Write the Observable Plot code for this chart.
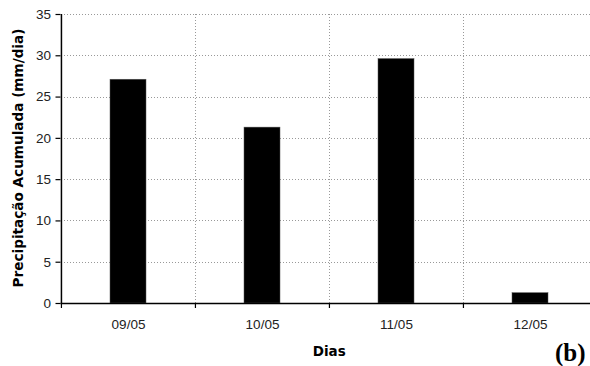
<!DOCTYPE html>
<html><head><meta charset="utf-8">
<script src="https://cdn.jsdelivr.net/npm/d3@7"></script>
<script src="https://cdn.jsdelivr.net/npm/@observablehq/plot@0.6"></script>
<style>
html,body{margin:0;padding:0;background:#fff;overflow:hidden;}
#chart{position:relative;width:590px;height:366px;overflow:hidden;}
#chart svg{overflow:hidden;}
</style></head><body><div id="chart"></div>
<script>
const dias = ["09/05", "10/05", "11/05", "12/05"];
const precipitacao = [27.1, 21.3, 29.6, 1.25];
const yTicks = [0, 5, 10, 15, 20, 25, 30, 35];
const yLabel = "Precipitação Acumulada (mm/dia)";
const xLabel = "Dias";
const panel = "(b)";

const data = dias.map((d, i) => ({dia: d, valor: precipitacao[i]}));

const W = 590, H = 366, mL = 60.5, mR = -7, mT = 14, mB = 63;
const step = (W - mR - mL) / dias.length;
const font = "'Liberation Sans', Arial, sans-serif";
const boldFont = "'DejaVu Sans', Verdana, sans-serif";
const grid = {stroke: "#999", strokeWidth: 1, strokeDasharray: "1.5,1.5", shapeRendering: "crispEdges"};

const chart = Plot.plot({
  width: W, height: H,
  marginLeft: mL, marginRight: mR, marginTop: mT, marginBottom: mB,
  style: {fontFamily: font, fontSize: "13.5px", color: "#222", background: "#fff"},
  x: {domain: dias, paddingInner: 0.732, paddingOuter: 0.366, axis: null},
  y: {domain: [0, 35], axis: null},
  marks: [
    Plot.ruleY(yTicks.filter(t => t > 0), {y: d => d, ...grid}),
    Plot.ruleX(dias.slice(1), {x: d => d, y1: 0, y2: 35, dx: -step / 2, ...grid}),
    Plot.barY(data, {x: "dia", y: "valor", fill: "#000", stroke: "#555", strokeWidth: 0.5}),
    Plot.axisY({ticks: yTicks, tickSize: 5, tickPadding: 5, stroke: "#000", strokeWidth: 1.2, label: null, fill: "#222"}),
    Plot.axisX({tickSize: 5, tickFormat: () => "", dx: -step / 2, stroke: "#000", strokeWidth: 1.2, label: null}),
    Plot.axisX({tickSize: 0, tickPadding: 16, label: null, fill: "#222"}),
    Plot.ruleY([0], {stroke: "#000", strokeWidth: 1.5}),
    Plot.ruleX([dias[0]], {y1: 0, y2: 35, dx: -step / 2, stroke: "#000", strokeWidth: 1.5}),
    Plot.text([yLabel], {frameAnchor: "left", rotate: -90, dx: -42, dy: -1, text: d => d,
      fontFamily: boldFont, fontWeight: "bold", fontSize: 13.6, fill: "#000", textAnchor: "middle", lineAnchor: "middle"}),
    Plot.text([xLabel], {frameAnchor: "bottom", dy: 48, text: d => d,
      fontFamily: boldFont, fontWeight: "bold", fontSize: 13.5, fill: "#000", lineAnchor: "middle"}),
    Plot.text([panel], {frameAnchor: "bottom-right", dx: -12, dy: 49, text: d => d,
      fontWeight: "bold", fontSize: 25, fill: "#000", textAnchor: "end", lineAnchor: "middle",
      fontFamily: "'Liberation Serif', 'Times New Roman', serif"})
  ]
});
document.getElementById("chart").appendChild(chart);
</script></body></html>
